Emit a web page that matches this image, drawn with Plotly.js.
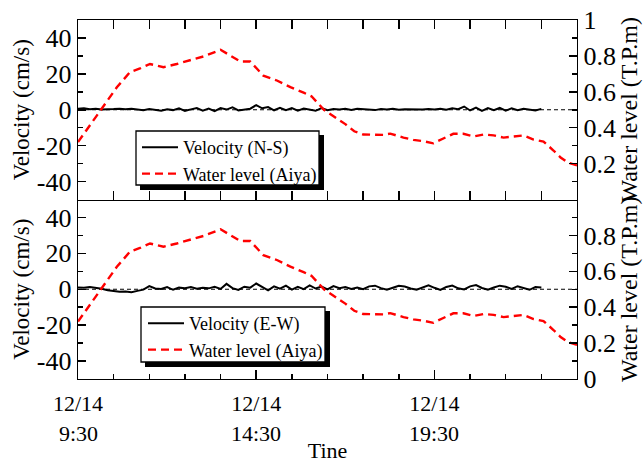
<!DOCTYPE html>
<html><head><meta charset="utf-8">
<script src="https://cdn.plot.ly/plotly-3.0.1.min.js"></script>
<style>body{margin:0;background:#fff}#chart{width:643px;height:464px}</style>
</head><body><div id="chart"></div>
<script>
// ---- data ----
const startHour = 9.5;          // 12/14 9:30
const velStepHours = 10 / 60;   // velocity sampled every 10 min
const velNS = [0.5, 0.8, 0.3, 0.6, 0.2, 0.5,
  0.4, 0.6, 0.3, 0.5, 0.2, -0.3,
  0.4, 0.1, -0.5, 0.3, -0.2, 0.8,
  -0.6, 0.2, 1.0, -0.5, 0.6, -0.8,
  0.9, 0.1, 1.4, -0.4, 0.3, 0.6,
  2.6, 0.8, 1.5, -0.3, 1.1, -0.2,
  0.9, -0.5, 0.7, 0.2, -0.6, 0.9,
  -0.2, 0.4, 0.1, 0.6, -0.1, 0.5,
  0.2, 0.3, -0.2, 0.4, 0.1, 0.6,
  0.0, 0.3, 0.2, 0.5, 0.1, 0.4,
  0.2, 0.6, 0.0, 0.8, 0.3, 1.8,
  -0.4, 1.2, -0.6, 0.9, -0.3, 1.0,
  -0.5, 0.8, -0.2, 0.6, 0.3, -0.4,
  0.5];
const velEW = [1.0, 0.8, 1.2, 0.9, 0.3, -0.5,
  -1.0, -1.4, -1.2, -1.6, -0.9, -0.2,
  1.8, 0.4, 0.2, 1.2, -0.3, 0.9,
  0.6, 1.3, 0.3, 0.8, 0.5, 1.4,
  0.2, 3.0, 0.6, -0.4, 1.4, 0.9,
  3.2, 1.5, -0.6, 1.6, 0.3, 2.0,
  -0.2, 1.4, 0.1, 2.1, 0.4, 1.5,
  -0.1, 1.8, 0.6, 1.2, 0.2, 0.9,
  0.0, 1.6, 2.0, 0.6, -0.3, 0.8,
  1.9, 1.5, 0.4, -0.2, 1.1, 2.2,
  0.8, -0.4, 1.3, 2.1, 0.5, -0.1,
  1.6, 2.3, 0.7, -0.2, 1.0, 2.0,
  1.4, 0.2, 1.7, 0.6, -0.3, 1.2,
  1.0];
const levelHoursAfterStart = [0, 0.63, 1.09, 1.46, 1.74, 2.02, 2.4, 2.77, 3.15, 3.52, 4.0, 4.36, 4.55, 4.83,
  5.2, 5.58, 5.96, 6.33, 6.55, 6.9, 7.2, 7.5, 7.75, 8.0, 8.57, 8.76, 9.13, 9.41, 9.69, 9.97,
  10.25, 10.53, 10.81, 11.1, 11.38, 11.66, 11.94, 12.2, 12.5, 12.78, 13.06, 13.34, 13.54, 13.74, 14.0];
const levelValues = [0.32, 0.495, 0.625, 0.71, 0.73, 0.755, 0.737, 0.755, 0.778, 0.797, 0.834, 0.793, 0.769, 0.769,
  0.69, 0.663, 0.626, 0.595, 0.575, 0.5, 0.46, 0.42, 0.38, 0.362, 0.36, 0.367, 0.345, 0.332, 0.325, 0.313,
  0.34, 0.366, 0.366, 0.351, 0.362, 0.357, 0.345, 0.351, 0.357, 0.334, 0.323, 0.273, 0.234, 0.206, 0.19];
const xTickVals = [9.5, 14.5, 19.5];
const xTickDates = ['12/14', '12/14', '12/14'];
const xTickTimes = ['9:30', '14:30', '19:30'];
const velTickVals = [-40, -20, 0, 20, 40];
const velTickText = ['-40', '-20', '0', '20', '40'];
const levelTickTop = [0.2, 0.4, 0.6, 0.8, 1];
const levelTickTopText = ['0.2', '0.4', '0.6', '0.8', '1'];
const levelTickBottom = [0, 0.2, 0.4, 0.6, 0.8];
const levelTickBottomText = ['0', '0.2', '0.4', '0.6', '0.8'];

// ---- build ----
const serif = 'Liberation Serif, Times New Roman, serif';
const velX = (arr) => arr.map((_, i) => startHour + i * velStepHours);
const levelX = levelHoursAfterStart.map(h => startHour + h);

const traces = [
  {x: velX(velNS), y: velNS, xaxis: 'x', yaxis: 'y', mode: 'lines', name: 'Velocity (N-S)',
   line: {color: 'black', width: 2}, legend: 'legend', legendgroup: 'a'},
  {x: levelX, y: levelValues, xaxis: 'x', yaxis: 'y2', mode: 'lines', name: 'Water level (Aiya)',
   line: {color: '#ff0000', width: 2.4, dash: '8px,5px'}, legend: 'legend', legendgroup: 'b'},
  {x: velX(velEW), y: velEW, xaxis: 'x2', yaxis: 'y3', mode: 'lines', name: 'Velocity (E-W)',
   line: {color: 'black', width: 2}, legend: 'legend2', legendgroup: 'c'},
  {x: levelX, y: levelValues, xaxis: 'x2', yaxis: 'y4', mode: 'lines', name: 'Water level (Aiya)',
   line: {color: '#ff0000', width: 2.4, dash: '8px,5px'}, legend: 'legend2', legendgroup: 'd'}
];

const W = 643, H = 464, M = {l: 78, r: 66, t: 20, b: 85};
const pw = W - M.l - M.r, ph = H - M.t - M.b;
const px = v => (v - M.l) / pw;
const py = v => 1 - (v - M.t) / ph;

const clear = 'rgba(0,0,0,0)';
const xBase = {
  range: [9.5, 23.5], showline: true, linecolor: 'black', linewidth: 1.3,
  ticks: 'inside', ticklen: 9, tickcolor: 'black', tickwidth: 1.5,
  tickvals: xTickVals, ticktext: xTickDates,
  minor: {dtick: 1, tick0: 9.5, ticklen: 5, ticks: 'inside', tickcolor: 'black', tickwidth: 1.5},
  gridcolor: clear, zeroline: false,
  tickfont: {family: serif, size: 22, color: 'black'}
};
const yVel = (dom, anchor) => ({
  domain: dom, anchor: anchor, range: [-50, 50], showline: true, linecolor: 'black', linewidth: 1.3,
  ticks: 'inside', ticklen: 8, tickcolor: 'black', tickwidth: 1.5,
  tickvals: velTickVals, ticktext: velTickText,
  minor: {dtick: 10, ticklen: 5, ticks: 'inside', tickcolor: 'black', tickwidth: 1.5},
  gridcolor: clear, zeroline: false,
  tickfont: {family: serif, size: 26, color: 'black'},
  title: {text: 'Velocity (cm/s)', font: {family: serif, size: 23, color: 'black'}, standoff: 0}
});
const yLev = (over, anchor, tv, tt) => ({
  overlaying: over, anchor: anchor, side: 'right', range: [0, 1], showline: true, linecolor: 'black', linewidth: 1.3,
  ticks: 'inside', ticklen: 8, tickcolor: 'black', tickwidth: 1.5,
  tickvals: tv, ticktext: tt,
  minor: {dtick: 0.1, ticklen: 5, ticks: 'inside', tickcolor: 'black', tickwidth: 1.5},
  gridcolor: clear, zeroline: false,
  tickfont: {family: serif, size: 26, color: 'black'},
  title: {text: 'Water level (T.P.m)', font: {family: serif, size: 24, color: 'black'}, standoff: 2}
});

const legendBase = {
  xanchor: 'left', yanchor: 'top', bgcolor: clear, borderwidth: 0,
  font: {family: serif, size: 18, color: 'black'}, tracegroupgap: 1, itemwidth: 36, traceorder: 'normal'
};

const boxShapes = (x0, y0, x1, y1) => [
  {type: 'rect', xref: 'paper', yref: 'paper', layer: 'above',
   x0: px(x0 + 4), x1: px(x1 + 5), y0: py(y0 + 4), y1: py(y1 + 5),
   fillcolor: 'black', line: {width: 0}},
  {type: 'rect', xref: 'paper', yref: 'paper', layer: 'above',
   x0: px(x0), x1: px(x1), y0: py(y0), y1: py(y1),
   fillcolor: 'white', line: {color: 'black', width: 1.3}}
];

const timeLabels = xTickVals.map((v, i) => ({
  x: v, xref: 'x2', y: py(433), yref: 'paper', yanchor: 'middle', xanchor: 'center',
  text: xTickTimes[i], showarrow: false, font: {family: serif, size: 22, color: 'black'}
}));

const layout = {
  width: W, height: H, margin: M, paper_bgcolor: 'white', plot_bgcolor: 'white',
  showlegend: true,
  xaxis: Object.assign({}, xBase, {anchor: 'y', showticklabels: false, mirror: 'allticks'}),
  xaxis2: Object.assign({}, xBase, {anchor: 'y3', mirror: false, ticklabelstandoff: 4,
    title: {text: 'Tine', font: {family: serif, size: 22, color: 'black'}, standoff: 28}}),
  yaxis: yVel([0.5, 1], 'x'),
  yaxis2: yLev('y', 'x', levelTickTop, levelTickTopText),
  yaxis3: yVel([0, 0.5], 'x2'),
  yaxis4: yLev('y3', 'x2', levelTickBottom, levelTickBottomText),
  legend: Object.assign({}, legendBase, {x: px(137), y: py(129)}),
  legend2: Object.assign({}, legendBase, {x: px(143), y: py(305)}),
  annotations: timeLabels,
  shapes: [
    {type: 'line', xref: 'x domain', yref: 'y', x0: 0, x1: 1, y0: 0, y1: 0, layer: 'below',
     line: {color: 'black', width: 1, dash: '4px,3px'}},
    {type: 'line', xref: 'x2 domain', yref: 'y3', x0: 0, x1: 1, y0: 0, y1: 0, layer: 'below',
     line: {color: 'black', width: 1, dash: '4px,3px'}}
  ].concat(boxShapes(136, 131, 319, 185), boxShapes(141, 307, 325, 362))
};

Plotly.newPlot('chart', traces, layout, {staticPlot: true, displayModeBar: false});
</script>
</body></html>
